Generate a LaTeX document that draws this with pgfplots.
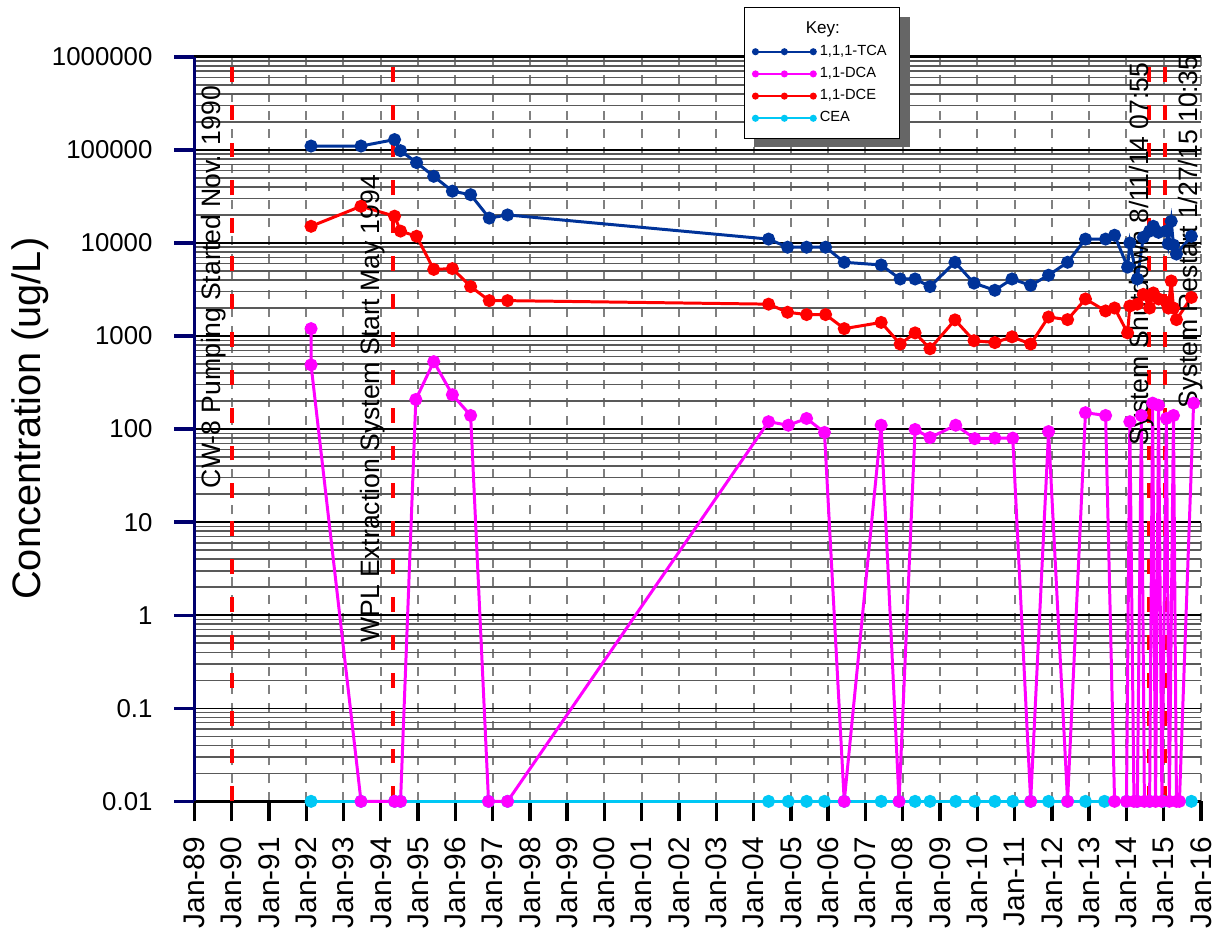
\documentclass[border=0pt]{standalone}
\usepackage{pgfplots}
\pgfplotsset{compat=1.18}
\usepackage{fontspec}
\setmainfont{Liberation Sans}
\usetikzlibrary{calc}
\definecolor{tcacol}{RGB}{0,51,153}
\definecolor{dcacol}{RGB}{255,0,255}
\definecolor{dcecol}{RGB}{255,0,0}
\definecolor{ceacol}{RGB}{0,200,245}
\definecolor{navyax}{RGB}{0,0,110}
\definecolor{gridgray}{RGB}{128,128,128}
\definecolor{shadowgray}{RGB}{102,102,102}
\begin{document}
\begin{tikzpicture}
\begin{axis}[
  scale only axis, width=505bp, height=373.5bp,
  ymode=log, log basis y=10,
  xmin=1989, xmax=2016, ymin=0.01, ymax=1000000,
  clip=false,
  axis x line*=box, axis y line*=left,
  x axis line style={line width=1.5bp, black},
  y axis line style={line width=1.7bp, navyax},
  xtick pos=left,
  tick align=outside, major tick length=10bp, minor tick length=0pt,
  xtick={1989,...,2016},
  xticklabels={Jan-89,Jan-90,Jan-91,Jan-92,Jan-93,Jan-94,Jan-95,Jan-96,Jan-97,Jan-98,Jan-99,Jan-00,Jan-01,Jan-02,Jan-03,Jan-04,Jan-05,Jan-06,Jan-07,Jan-08,Jan-09,Jan-10,Jan-11,Jan-12,Jan-13,Jan-14,Jan-15,Jan-16},
  ytick={0.01,0.1,1,10,100,1000,10000,100000,1000000},
  yticklabels={0.01,0.1,1,10,100,1000,10000,100000,1000000},
  minor ytick={0.02,0.03,0.04,0.05,0.06,0.07,0.08,0.09,
    0.2,0.3,0.4,0.5,0.6,0.7,0.8,0.9,
    2,3,4,5,6,7,8,9,
    20,30,40,50,60,70,80,90,
    200,300,400,500,600,700,800,900,
    2000,3000,4000,5000,6000,7000,8000,9000,
    20000,30000,40000,50000,60000,70000,80000,90000,
    200000,300000,400000,500000,600000,700000,800000,900000},
  xtick style={line width=1.7bp, black},
  ytick style={line width=1.7bp, navyax},
  xticklabel style={font=\fontsize{15}{18}\selectfont, rotate=90, anchor=east},
  xticklabel shift=4.5bp,
  yticklabel style={font=\fontsize{13}{15}\selectfont},
  yticklabel shift=7.5bp,
  /pgf/number format/assume math mode=true,
  xmajorgrids, ymajorgrids, yminorgrids,
  major x grid style={gridgray, line width=1bp, dash pattern=on 4.5bp off 4.5bp},
  major y grid style={black, line width=0.75bp},
  minor y grid style={black!65, line width=0.75bp},
  ylabel={Concentration (ug/L)},
  every axis y label/.style={at={(axis description cs:-0.1634,0.514)}, rotate=90, anchor=center, font=\fontsize{20}{24}\selectfont},
  legend image code/.code={\draw[line width=1bp, mark size=1.25bp] plot coordinates {(0bp,0bp) (14.5bp,0bp) (29bp,0bp)};},
  legend style={at={(axis description cs:0.5455,1.0669)}, anchor=north west,
    draw=black, line width=0.5bp, fill=white,
    font=\fontsize{7.4}{9}\selectfont, legend cell align=left,
    row sep=0.5bp, inner xsep=4.5bp, inner ysep=5bp},
]
% legend shadow
\fill[shadowgray] (axis description cs:0.5564,0.8782) rectangle (axis description cs:0.7109,1.0535);

% event lines
\addplot[forget plot, dcecol, line width=2bp, dash pattern=on 7.5bp off 11.5bp] coordinates {(1990.0,0.01) (1990.0,1000000)};
\addplot[forget plot, dcecol, line width=2bp, dash pattern=on 7.5bp off 11.5bp] coordinates {(1994.32,0.01) (1994.32,1000000)};
\addplot[forget plot, dcecol, line width=2bp, dash pattern=on 7.5bp off 11.5bp] coordinates {(2014.61,0.01) (2014.61,1000000)};
\addplot[forget plot, dcecol, line width=2bp, dash pattern=on 7.5bp off 11.5bp] coordinates {(2015.04,0.01) (2015.04,1000000)};

\addlegendimage{empty legend}
\addlegendentry{\hspace*{-7bp}\fontsize{8.6}{10}\selectfont Key:\rule[-3bp]{0pt}{3bp}}

% CEA (drawn first, underneath)
\addplot[forget plot, ceacol, line width=1.5bp, mark=*, mark size=2.5bp] coordinates {
(1992.13,0.01) (1993.47,0.01) (1994.37,0.01) (1994.53,0.01) (1996.89,0.01) (1997.40,0.01)
(2004.40,0.01) (2004.93,0.01) (2005.42,0.01) (2005.90,0.01) (2006.43,0.01) (2007.42,0.01)
(2007.90,0.01) (2008.33,0.01) (2008.73,0.01) (2009.42,0.01) (2009.93,0.01) (2010.47,0.01)
(2010.95,0.01) (2011.43,0.01) (2011.91,0.01) (2012.42,0.01) (2012.90,0.01) (2013.41,0.01)
(2014.00,0.01) (2014.29,0.01) (2014.62,0.01) (2014.99,0.01) (2015.74,0.01)};

% 1,1,1-TCA
\addplot[tcacol, line width=1.5bp, mark=*, mark size=2.5bp] coordinates {
(1992.13,110000) (1993.47,110000) (1994.37,129000) (1994.53,98000) (1994.96,73000)
(1995.42,52000) (1995.92,36000) (1996.41,33000) (1996.91,18500) (1997.40,20000)
(2004.40,11000) (2004.91,9000) (2005.42,9000) (2005.93,9000) (2006.43,6200)
(2007.42,5800) (2007.93,4100) (2008.33,4100) (2008.73,3400) (2009.40,6200)
(2009.91,3700) (2010.47,3100) (2010.93,4100) (2011.43,3500) (2011.91,4500)
(2012.42,6200) (2012.90,11000) (2013.44,11000) (2013.68,12100) (2014.03,5500)
(2014.09,10000) (2014.29,4100) (2014.45,11500) (2014.62,13400) (2014.72,15100)
(2014.86,13000) (2015.07,13400) (2015.12,9800) (2015.20,17100) (2015.26,9500)
(2015.34,7600) (2015.74,11800)};
\addlegendentry{1,1,1-TCA}

% 1,1-DCA
\addplot[dcacol, line width=1.5bp, mark=*, mark size=2.5bp] coordinates {
(1992.13,1200) (1992.13,490) (1993.47,0.01) (1994.37,0.01) (1994.53,0.01)
(1994.94,208) (1995.42,530) (1995.92,234) (1996.41,140) (1996.89,0.01) (1997.40,0.01)
(2004.40,120) (2004.93,110) (2005.42,130) (2005.90,92) (2006.43,0.01) (2007.42,110)
(2007.90,0.01) (2008.33,99) (2008.73,81) (2009.42,110) (2009.93,79) (2010.47,80)
(2010.95,80) (2011.43,0.01) (2011.91,94) (2012.42,0.01) (2012.90,150) (2013.44,140)
(2013.68,0.01) (2014.00,0.01) (2014.09,120) (2014.20,0.01) (2014.29,0.01) (2014.40,140)
(2014.48,0.01) (2014.62,0.01) (2014.70,190) (2014.78,0.01) (2014.86,180) (2014.95,0.01)
(2015.07,130) (2015.15,0.01) (2015.26,140) (2015.34,0.01) (2015.42,0.01) (2015.80,190)};
\addlegendentry{1,1-DCA}

% 1,1-DCE
\addplot[dcecol, line width=1.5bp, mark=*, mark size=2.5bp] coordinates {
(1992.13,15100) (1993.47,24800) (1994.37,19400) (1994.53,13400) (1994.96,11800)
(1995.42,5200) (1995.92,5300) (1996.41,3400) (1996.91,2400) (1997.40,2400)
(2004.40,2200) (2004.91,1800) (2005.42,1700) (2005.93,1700) (2006.43,1200)
(2007.42,1400) (2007.93,820) (2008.33,1080) (2008.73,730) (2009.40,1490)
(2009.91,890) (2010.47,850) (2010.93,980) (2011.43,820) (2011.91,1600)
(2012.42,1500) (2012.90,2500) (2013.44,1860) (2013.68,2000) (2014.03,1080)
(2014.09,2100) (2014.29,2200) (2014.45,2800) (2014.62,2000) (2014.72,2900)
(2014.86,2500) (2015.07,2300) (2015.12,2000) (2015.20,3900) (2015.26,2000)
(2015.34,1500) (2015.74,2600)};
\addlegendentry{1,1-DCE}

\addlegendimage{ceacol, line width=1.5bp, mark=*}
\addlegendentry{CEA}

% annotations
\node[rotate=90, anchor=base west, inner sep=0pt, font=\fontsize{13.4}{16}\selectfont] at (axis cs:1989.70,23) {CW-8 Pumping Started Nov. 1990};
\node[rotate=90, anchor=base west, inner sep=0pt, font=\fontsize{13.4}{16}\selectfont] at (axis cs:1993.97,0.507) {WPL Extraction System Start May 1994};
\node[rotate=90, anchor=base west, inner sep=0pt, font=\fontsize{13.4}{16}\selectfont] at (axis cs:2014.59,66.7) {System Shutdown 8/11/14 07:55};
\node[rotate=90, anchor=base west, inner sep=0pt, font=\fontsize{13.4}{16}\selectfont] at (axis cs:2015.91,166) {System Restart 1/27/15 10:35};
\end{axis}
\pgfresetboundingbox
\path[use as bounding box] ($(current axis.south west)+(-97.5bp,-69bp)$) rectangle ($(current axis.north east)+(8bp,28.5bp)$);
\end{tikzpicture}
\end{document}
